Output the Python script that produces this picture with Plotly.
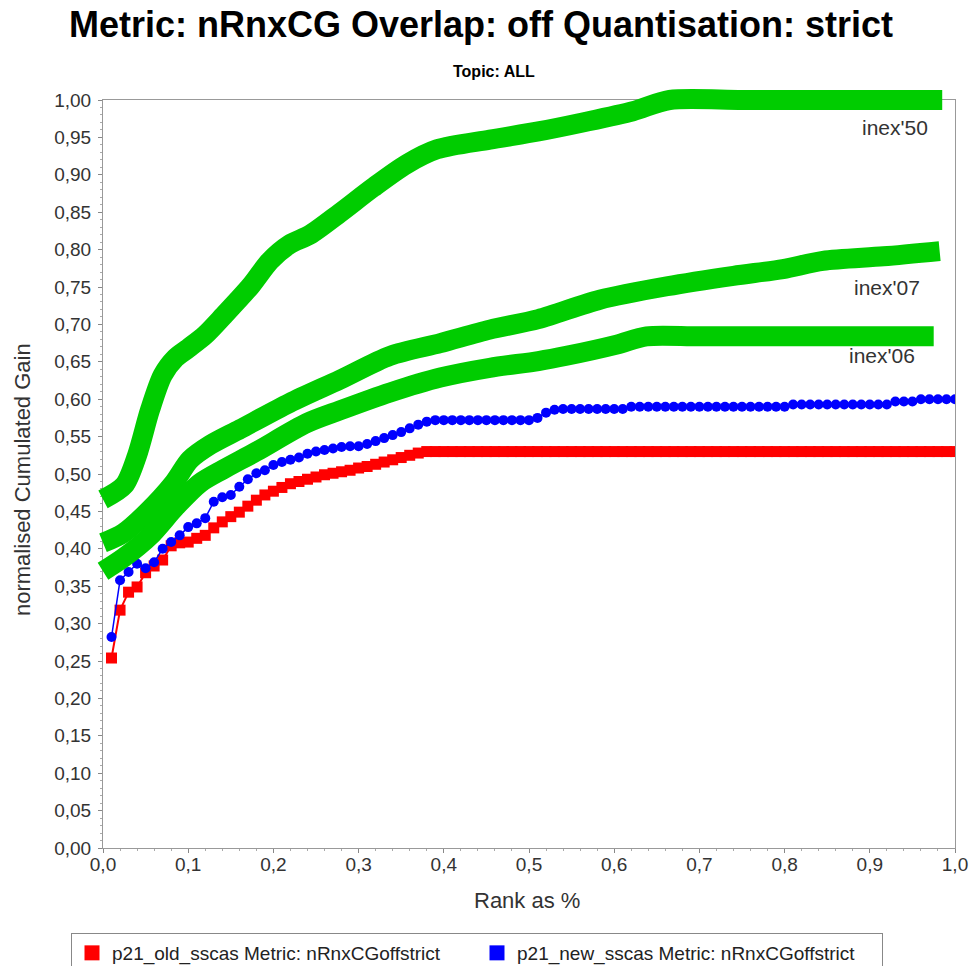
import plotly.graph_objects as go

# ---------------- data ----------------
rank = [k / 100 for k in range(1, 101)]

old_sscas = [0.254, 0.318, 0.342, 0.349, 0.368, 0.377, 0.385, 0.404, 0.408, 0.409,
             0.414, 0.418, 0.428, 0.436, 0.443, 0.449, 0.457, 0.465, 0.472, 0.477,
             0.482, 0.487, 0.490, 0.493, 0.496, 0.499, 0.501, 0.503, 0.505, 0.508,
             0.510, 0.513, 0.516, 0.519, 0.522, 0.525, 0.528] + [0.530] * 63

new_sscas = [0.282, 0.358, 0.369, 0.380, 0.374, 0.382, 0.400, 0.409, 0.418, 0.429,
             0.434, 0.441, 0.463, 0.469, 0.472, 0.483, 0.493, 0.501, 0.505, 0.512,
             0.516, 0.519, 0.522, 0.527, 0.530, 0.532, 0.534, 0.536, 0.537, 0.537,
             0.540, 0.544, 0.548, 0.552, 0.556, 0.561, 0.566, 0.570, 0.572] \
            + [0.572] * 11 + [0.575, 0.582, 0.586] + [0.587] * 8 + [0.590] * 19 \
            + [0.593] * 12 + [0.597] * 3 + [0.600] * 5

inex50_x = [0.0, 0.025, 0.04, 0.055, 0.07, 0.085, 0.10, 0.12, 0.141, 0.173, 0.196,
            0.219, 0.243, 0.278, 0.317, 0.356, 0.392, 0.454, 0.511, 0.563, 0.622,
            0.665, 0.75, 0.85, 0.985]
inex50_y = [0.466, 0.485, 0.525, 0.585, 0.632, 0.655, 0.668, 0.686, 0.711, 0.751, 0.785,
            0.807, 0.820, 0.849, 0.883, 0.914, 0.934, 0.947, 0.958, 0.970, 0.985,
            1.0, 1.0, 1.0, 1.0]

inex07_x = [0.0, 0.024, 0.051, 0.083, 0.102, 0.126, 0.161, 0.219, 0.278, 0.337, 0.396,
            0.454, 0.511, 0.583, 0.662, 0.740, 0.798, 0.845, 0.916, 0.982]
inex07_y = [0.408, 0.421, 0.448, 0.488, 0.519, 0.539, 0.560, 0.595, 0.626, 0.658, 0.675,
            0.693, 0.707, 0.733, 0.751, 0.765, 0.774, 0.785, 0.791, 0.798]

inex06_x = [0.0, 0.024, 0.055, 0.086, 0.114, 0.141, 0.180, 0.239, 0.278, 0.337, 0.396,
            0.454, 0.511, 0.544, 0.603, 0.638, 0.70, 0.85, 0.975]
inex06_y = [0.370, 0.388, 0.417, 0.457, 0.488, 0.506, 0.530, 0.568, 0.585, 0.609, 0.629,
            0.642, 0.651, 0.658, 0.673, 0.684, 0.684, 0.684, 0.684]

green_labels = ["inex'50", "inex'07", "inex'06"]
label_x = [0.930, 0.920, 0.914]
label_y = [0.963, 0.750, 0.658]

legend_names = ["p21_old_sscas Metric: nRnxCGoffstrict",
                "p21_new_sscas Metric: nRnxCGoffstrict"]

title_text = "Metric: nRnxCG Overlap: off Quantisation: strict"
subtitle_text = "Topic: ALL"
x_title = "Rank as %"
y_title = "normalised Cumulated Gain"

# ---------------- geometry ----------------
W, H = 974, 966
ML, MR, MT, MB = 90, 15, 88, 118
PL, PR, PT, PB = 103, 955, 100, 848          # main plot area in px
pw, ph = W - ML - MR, H - MT - MB
xdom = [(PL - ML) / pw, (PR - ML) / pw]
ydom = [0, (PB - PT) / ph]
# green overlay axes span the full paper area (so the thick lines are not clipped)
g_x0 = (ML - PL) / (PR - PL)
g_x1 = (W - MR - PL) / (PR - PL)
g_y1 = (PB - MT) / (PB - PT)


def py_to_paper(py):
    return (H - MB - py) / ph


def px_to_paper(px):
    return (px - ML) / pw


GREEN = "#00cc00"
FONT = "Liberation Sans, Arial, sans-serif"
TXT = "#333333"

fig = go.Figure()

for gx, gy in [(inex50_x, inex50_y), (inex07_x, inex07_y), (inex06_x, inex06_y)]:
    fig.add_trace(go.Scatter(x=gx, y=gy, mode="lines", xaxis="x2", yaxis="y2",
                             line=dict(color=GREEN, width=20, shape="spline", smoothing=0.8),
                             showlegend=False, hoverinfo="skip"))

fig.add_trace(go.Scatter(x=rank, y=old_sscas, mode="lines+markers",
                         line=dict(color="#ff0000", width=2),
                         marker=dict(symbol="square", size=11, color="#ff0000"),
                         showlegend=False))
fig.add_trace(go.Scatter(x=rank, y=new_sscas, mode="lines+markers",
                         line=dict(color="#0000ff", width=1.5),
                         marker=dict(symbol="circle", size=10, color="#0000ff"),
                         showlegend=False))

# legend entries (square swatches)
for name, col in zip(legend_names, ["#ff0000", "#0000ff"]):
    fig.add_trace(go.Scatter(x=[None], y=[None], mode="markers", name=name,
                             marker=dict(symbol="square", size=15, color=col)))

for t, lx, ly in zip(green_labels, label_x, label_y):
    fig.add_annotation(x=lx, y=ly, xref="x", yref="y", text=t, showarrow=False,
                       font=dict(family=FONT, size=21, color=TXT))

fig.add_annotation(x=px_to_paper(494), y=py_to_paper(72), xref="paper", yref="paper",
                   xanchor="center", yanchor="middle",
                   text="<b>" + subtitle_text + "</b>", showarrow=False,
                   font=dict(family=FONT, size=16, color="#000"))

# axis titles
fig.add_annotation(x=px_to_paper(527), y=py_to_paper(900), xref="paper", yref="paper",
                   xanchor="center", yanchor="middle", text=x_title, showarrow=False,
                   font=dict(family=FONT, size=22, color=TXT))
fig.add_annotation(x=px_to_paper(22), y=py_to_paper(480), xref="paper", yref="paper",
                   xanchor="center", yanchor="middle", text=y_title, showarrow=False,
                   textangle=-90, font=dict(family=FONT, size=22, color=TXT))

axis_common = dict(showline=True, linecolor="#999999", linewidth=1, mirror=True,
                   ticks="outside", ticklen=4, tickcolor="#888888",
                   showgrid=False, zeroline=False, automargin=False,
                   tickfont=dict(family=FONT, size=19, color=TXT))

fig.update_layout(
    template="none",
    width=W, height=H,
    margin=dict(l=ML, r=MR, t=MT, b=MB, autoexpand=False),
    paper_bgcolor="white", plot_bgcolor="rgba(0,0,0,0)",
    separators=",.",
    title=dict(text="<b>" + title_text + "</b>", x=481 / W, xanchor="center",
               y=1 - 24 / H, yanchor="middle", xref="container", yref="container",
               font=dict(family=FONT, size=36, color="#000")),
    xaxis=dict(domain=xdom, range=[0, 1], dtick=0.1, tickformat=".1f",
               minor=dict(ticks="outside", ticklen=2, dtick=0.02, tickcolor="#aaaaaa"),
               ticklabelstandoff=-5,
               **axis_common),
    yaxis=dict(domain=ydom, range=[0, 1], dtick=0.05, tickformat=".2f",
               minor=dict(ticks="outside", ticklen=2, dtick=0.01, tickcolor="#aaaaaa"),
               ticklabelstandoff=3,
               **axis_common),
    xaxis2=dict(domain=[0, 1], range=[g_x0, g_x1], visible=False, anchor="y2"),
    yaxis2=dict(domain=[0, 1], range=[0, g_y1], visible=False, anchor="x2"),
    legend=dict(orientation="h", x=px_to_paper(477), xanchor="center",
                y=py_to_paper(933), yanchor="top",
                bordercolor="#888888", borderwidth=1, bgcolor="white",
                font=dict(family=FONT, size=19, color="#222222"),
                itemwidth=30, entrywidth=360, entrywidthmode="pixels",
                tracegroupgap=0),
)

fig.write_html("out.html", config={"displayModeBar": False},
               post_script="document.body.style.margin='0px';")
